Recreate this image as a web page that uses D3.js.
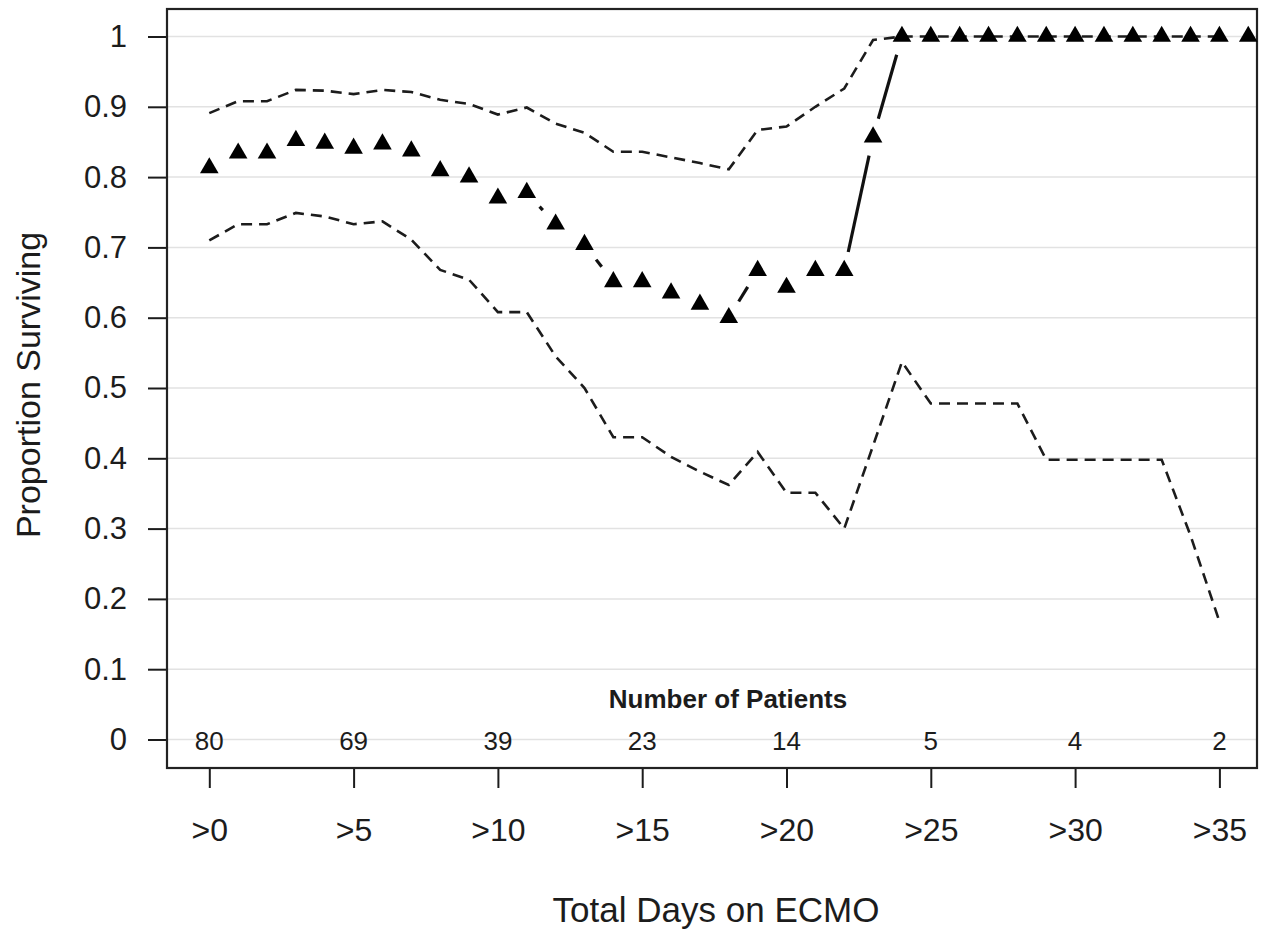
<!DOCTYPE html>
<html>
<head>
<meta charset="utf-8">
<script src="https://cdn.jsdelivr.net/npm/d3@7"></script>
<style>
  html, body { margin: 0; padding: 0; background: #fff; }
  svg { display: block; font-family: "Liberation Sans", Arial, sans-serif; }
</style>
</head>
<body>
<svg id="chart" width="1265" height="936"></svg>
<script>
// ---- data ----
const days = d3.range(0, 37);                       // >0 ... >36
const survival = [0.813, 0.834, 0.834, 0.852, 0.848, 0.841, 0.847, 0.837, 0.809, 0.800,
                  0.770, 0.778, 0.733, 0.704, 0.651, 0.651, 0.635, 0.619, 0.600, 0.667,
                  0.643, 0.667, 0.667, 0.857, 1, 1, 1, 1, 1, 1,
                  1, 1, 1, 1, 1, 1, 1];
const upperCI = [0.891, 0.908, 0.908, 0.924, 0.923, 0.918, 0.924, 0.921, 0.910, 0.904,
                 0.889, 0.899, 0.876, 0.863, 0.836, 0.836, 0.828, 0.820, 0.811, 0.867,
                 0.872, 0.900, 0.926, 0.995, 1, 1, 1, 1, 1, 1,
                 1, 1, 1, 1, 1, 1];
const lowerCI = [0.710, 0.733, 0.733, 0.749, 0.744, 0.733, 0.737, 0.711, 0.668, 0.654,
                 0.608, 0.608, 0.545, 0.500, 0.430, 0.430, 0.402, 0.381, 0.362, 0.409,
                 0.351, 0.351, 0.300, 0.418, 0.537, 0.478, 0.478, 0.478, 0.478, 0.398,
                 0.398, 0.398, 0.398, 0.398, 0.290, 0.168];
const xTicks = [0, 5, 10, 15, 20, 25, 30, 35];
const xTickLabels = ['>0', '>5', '>10', '>15', '>20', '>25', '>30', '>35'];
const patients = [80, 69, 39, 23, 14, 5, 4, 2];      // at each x tick
const yTicks = d3.range(0, 11).map(i => i / 10);

// ---- layout ----
const box = { left: 167, right: 1257, top: 9, bottom: 768 };
const svg = d3.select('#chart');
const ink = '#1c1c1c';

const x = d3.scaleLinear().domain([0, 35]).range([209.3, 1219.4]);
const y = d3.scaleLinear().domain([0, 1]).range([739.5, 36.5]);

// gridlines
svg.append('g').selectAll('line').data(yTicks).enter().append('line')
  .attr('x1', box.left).attr('x2', box.right)
  .attr('y1', d => y(d)).attr('y2', d => y(d))
  .attr('stroke', '#e2e2e2').attr('stroke-width', 1.5);

// y axis (ticks + labels), drawn outside the box
const yAxis = svg.append('g')
  .attr('transform', `translate(${box.left},0)`)
  .call(d3.axisLeft(y).tickValues(yTicks).tickSize(19).tickPadding(21)
    .tickFormat(d => d === 0 || d === 1 ? d3.format('d')(d) : d3.format('.1f')(d)));
yAxis.select('.domain').remove();
yAxis.selectAll('.tick line').attr('stroke', ink).attr('stroke-width', 2);
yAxis.selectAll('.tick text').attr('fill', ink).style('font-size', '31px')
  .style('font-family', '"Liberation Sans", Arial, sans-serif');

// x axis
const xAxis = svg.append('g')
  .attr('transform', `translate(0,${box.bottom})`)
  .call(d3.axisBottom(x).tickValues(xTicks).tickSize(20).tickPadding(30)
    .tickFormat((d, i) => xTickLabels[i]));
xAxis.select('.domain').remove();
xAxis.selectAll('.tick line').attr('stroke', ink).attr('stroke-width', 2);
xAxis.selectAll('.tick text').attr('fill', ink).style('font-size', '32px')
  .style('font-family', '"Liberation Sans", Arial, sans-serif');

// plot frame
svg.append('rect')
  .attr('x', box.left).attr('y', box.top)
  .attr('width', box.right - box.left).attr('height', box.bottom - box.top)
  .attr('fill', 'none').attr('stroke', '#222').attr('stroke-width', 2.2);

// confidence bands (dashed)
const line = d3.line().x((d, i) => x(i)).y(d => y(d));
[upperCI, lowerCI].forEach(ci => {
  svg.append('path').datum(ci)
    .attr('d', line)
    .attr('fill', 'none').attr('stroke', ink)
    .attr('stroke-width', 2.6).attr('stroke-dasharray', '11,7');
});

// survival line, R type="b": segments broken around each point
const gap = 19;
const segs = [];
for (let i = 0; i < survival.length - 1; i++) {
  const x0 = x(days[i]), y0 = y(survival[i]);
  const x1 = x(days[i + 1]), y1 = y(survival[i + 1]);
  const len = Math.hypot(x1 - x0, y1 - y0);
  if (len <= 2 * gap) continue;
  const ux = (x1 - x0) / len, uy = (y1 - y0) / len;
  segs.push([x0 + ux * gap, y0 + uy * gap, x1 - ux * gap, y1 - uy * gap]);
}
svg.append('g').selectAll('line').data(segs).enter().append('line')
  .attr('x1', d => d[0]).attr('y1', d => d[1])
  .attr('x2', d => d[2]).attr('y2', d => d[3])
  .attr('stroke', '#111').attr('stroke-width', 3.2);

// triangles
svg.append('g').selectAll('path').data(survival).enter().append('path')
  .attr('transform', (d, i) => `translate(${x(days[i])},${y(d)})`)
  .attr('d', d3.symbol().type(d3.symbolTriangle).size(150))
  .attr('fill', '#000');

// number of patients
svg.append('text')
  .attr('x', 728).attr('y', 708)
  .attr('text-anchor', 'middle')
  .style('font-size', '26px').style('font-weight', 'bold')
  .attr('fill', ink)
  .text('Number of Patients');

svg.append('g').selectAll('text').data(patients).enter().append('text')
  .attr('x', (d, i) => x(xTicks[i])).attr('y', 750)
  .attr('text-anchor', 'middle')
  .style('font-size', '26px').attr('fill', ink)
  .text(d => d);

// axis titles
svg.append('text')
  .attr('x', 716).attr('y', 922)
  .attr('text-anchor', 'middle')
  .style('font-size', '35px').attr('fill', ink)
  .text('Total Days on ECMO');

svg.append('text')
  .attr('transform', 'translate(40,385) rotate(-90)')
  .attr('text-anchor', 'middle')
  .style('font-size', '34px').attr('fill', ink)
  .text('Proportion Surviving');
</script>
</body>
</html>
